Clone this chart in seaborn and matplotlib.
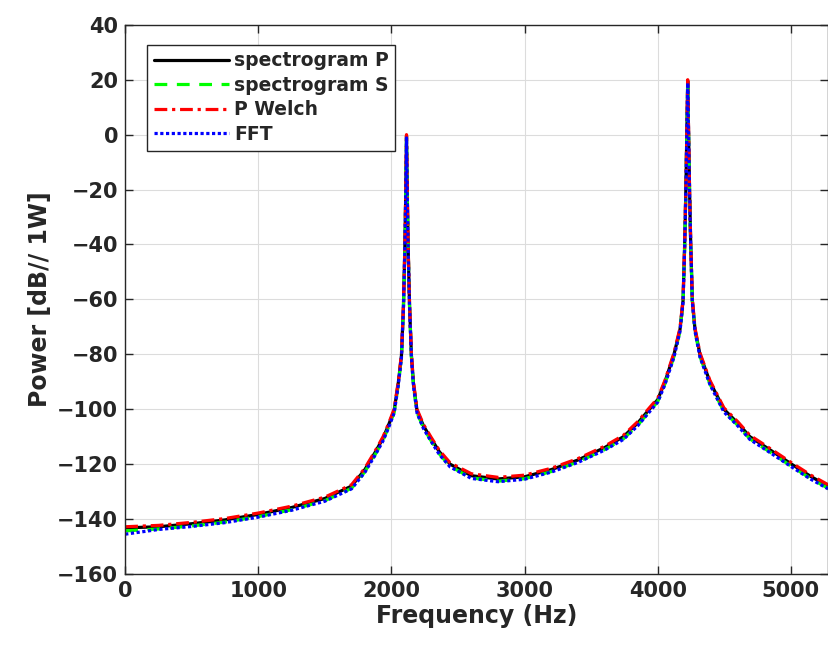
"""Power spectrum comparison: spectrogram vs Welch vs FFT."""

import matplotlib

matplotlib.use("Agg")

import matplotlib.pyplot as plt
import pandas as pd
import seaborn as sns

# frequencies (Hz)
freq_hz = [
    0, 250, 500, 750, 1000, 1250, 1500, 1700, 1800, 1880,
    1937, 1980, 2020, 2051, 2075, 2090, 2100, 2107, 2113, 2119,
    2126, 2136, 2150, 2165, 2192, 2240, 2295, 2360, 2440, 2600,
    2800, 3000, 3200, 3400, 3600, 3742, 3850, 3937, 4000, 4054,
    4122, 4167, 4190, 4202, 4211, 4218, 4225, 4232, 4239, 4248,
    4260, 4280, 4317, 4392, 4497, 4600, 4692, 4850, 5005, 5150,
    5280,
]

spec_p_db = [
    -143.2, -142.8, -141.7, -140.3, -138.3, -135.8, -132.5, -128.0, -122.0, -115.5,
    -110.5, -105.5, -100.5, -90.5, -80.5, -62.5, -42.5, -22.5, -0.5, -22.5,
    -42.5, -62.5, -80.5, -90.5, -100.5, -106.0, -110.5, -115.5, -120.0, -124.2,
    -125.4, -124.6, -122.0, -118.5, -114.0, -110.0, -105.0, -100.0, -96.5, -90.0,
    -80.0, -71.0, -60.5, -40.5, -20.5, -0.5, 19.5, -0.5, -20.5, -40.5,
    -60.5, -71.0, -80.0, -90.0, -100.0, -105.0, -110.0, -115.0, -120.0, -124.5,
    -128.0,
]

spec_s_db = [
    -144.3, -143.6, -142.5, -141.1, -139.1, -136.6, -133.3, -128.8, -122.8, -116.3,
    -111.3, -106.3, -101.2, -91.2, -81.0, -63.0, -43.0, -23.0, -1.0, -23.0,
    -43.0, -63.0, -81.0, -91.2, -101.2, -106.8, -111.3, -116.3, -120.8, -125.0,
    -126.2, -125.3, -122.7, -119.2, -114.7, -110.8, -105.8, -100.8, -97.2, -90.8,
    -80.8, -71.5, -61.0, -41.0, -21.0, -1.0, 19.0, -1.0, -21.0, -41.0,
    -61.0, -71.5, -80.8, -90.8, -100.8, -105.8, -110.8, -115.8, -120.8, -125.3,
    -128.8,
]

welch_db = [
    -142.8, -142.3, -141.2, -139.8, -137.8, -135.3, -132.0, -127.5, -121.5, -115.0,
    -110.0, -105.0, -100.0, -90.0, -80.0, -62.0, -42.0, -22.0, 0.0, -22.0,
    -42.0, -62.0, -80.0, -90.0, -100.0, -105.5, -110.0, -115.0, -119.5, -123.5,
    -124.8, -124.0, -121.5, -118.0, -113.5, -109.5, -104.5, -99.5, -96.0, -89.5,
    -79.5, -70.5, -60.0, -40.0, -20.0, 0.0, 20.0, 0.0, -20.0, -40.0,
    -60.0, -70.5, -79.5, -89.5, -99.5, -104.5, -109.5, -114.5, -119.5, -124.0,
    -127.5,
]

fft_db = [
    -145.5, -143.8, -142.7, -141.3, -139.3, -136.8, -133.5, -129.0, -123.0, -116.5,
    -111.5, -106.5, -101.4, -91.4, -81.2, -63.2, -43.2, -23.2, -1.2, -23.2,
    -43.2, -63.2, -81.2, -91.4, -101.4, -107.0, -111.5, -116.5, -121.0, -125.2,
    -126.4, -125.5, -122.9, -119.4, -114.9, -111.0, -106.0, -101.0, -97.4, -91.0,
    -81.0, -71.7, -61.2, -41.2, -21.2, -1.2, 18.8, -1.2, -21.2, -41.2,
    -61.2, -71.7, -81.0, -91.0, -101.0, -106.0, -111.0, -116.0, -121.0, -125.5,
    -129.0,
]

x_ticks = [0, 1000, 2000, 3000, 4000, 5000]
y_ticks = list(range(-160, 41, 20))

series = [
    ("spectrogram P", spec_p_db, "black", "-"),
    ("spectrogram S", spec_s_db, "#00ff00", (0, (4, 3))),
    ("P Welch", welch_db, "red", (0, (4, 1.5, 1, 1.5))),
    ("FFT", fft_db, "blue", (0, (1, 0.8))),
]

sns.set_theme(style="whitegrid")
plt.rcParams["font.family"] = ["DejaVu Sans"]
plt.rcParams["font.weight"] = "bold"

fig = plt.figure(figsize=(8.29, 6.53), dpi=100)
ax = fig.add_axes([0.151, 0.121, 0.848, 0.841])
ax.set_facecolor("white")

for name, values, color, dash in series:
    frame = pd.DataFrame({"freq": freq_hz, "power": values})
    sns.lineplot(data=frame, x="freq", y="power", ax=ax, color=color,
                 linewidth=2.3, label=name, sort=False)
    ax.lines[-1].set_linestyle(dash)

ax.set_xlim(0, 5280)
ax.set_ylim(-160, 40)
ax.set_xticks(x_ticks)
ax.set_yticks(y_ticks)
ax.set_xticklabels([str(t) for t in x_ticks])
ax.set_yticklabels(["\u2212" + str(-t) if t < 0 else str(t) for t in y_ticks])

ax.grid(True, color="#dcdcdc", linewidth=0.8)
for spine in ax.spines.values():
    spine.set_color("#262626")
    spine.set_linewidth(1.0)
ax.tick_params(direction="in", length=6, width=1, colors="#262626",
               labelsize=15, top=True, right=True, bottom=True, left=True,
               pad=5)
for lab in ax.get_xticklabels() + ax.get_yticklabels():
    lab.set_fontweight("bold")

ax.set_xlabel("Frequency (Hz)", fontsize=17, fontweight="bold",
              color="#262626", labelpad=2)
ax.set_ylabel("Power [dB// 1W]", fontsize=17, fontweight="bold",
              color="#262626", labelpad=4)

leg = ax.legend(loc="upper left", bbox_to_anchor=(0.031, 0.964),
                fontsize=13.5, frameon=True, fancybox=False, handlelength=4.0,
                handletextpad=0.3, borderpad=0.35, labelspacing=0.3,
                borderaxespad=0)
leg.get_frame().set_edgecolor("#262626")
leg.get_frame().set_linewidth(1.0)
leg.get_frame().set_alpha(1)
for text in leg.get_texts():
    text.set_fontweight("bold")
    text.set_color("#262626")

fig.savefig("out.png", dpi=100)
